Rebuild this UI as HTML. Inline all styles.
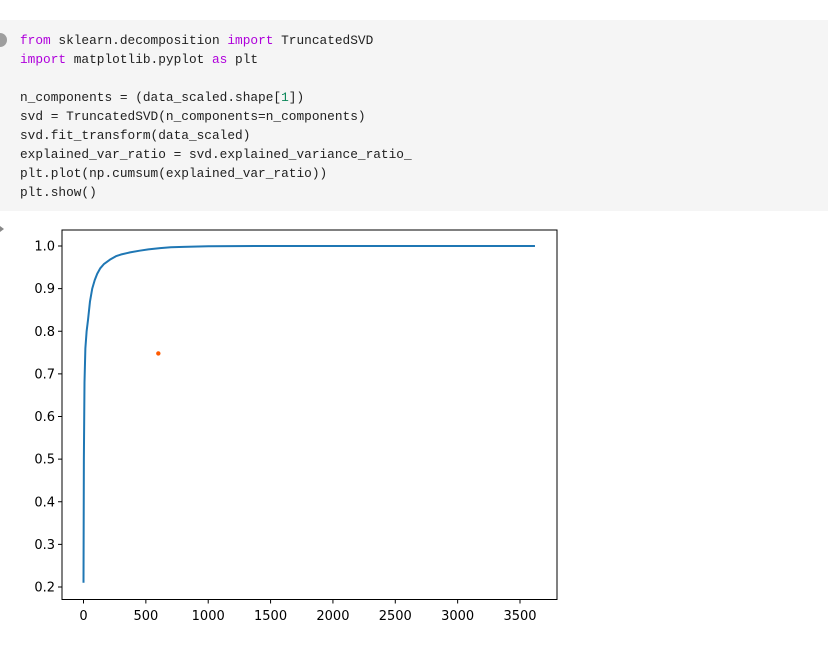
<!DOCTYPE html>
<html><head><meta charset="utf-8"><style>
body{margin:0;width:828px;height:647px;background:#fff;overflow:hidden;position:relative;font-family:"Liberation Sans","DejaVu Sans",sans-serif}
#code{position:absolute;left:0;top:20px;width:828px;height:191px;background:#f5f5f5}
#code pre{margin:0;position:absolute;left:20px;top:11px;font-family:"Liberation Mono","DejaVu Sans Mono",monospace;font-size:12.8px;line-height:19px;color:#212121}
.kw{color:#af00db}.num{color:#098658}
#run{position:absolute;left:0;top:13px;width:7px;height:14px;background:#9e9e9e;border-radius:0 7px 7px 0}
svg{position:absolute;left:0;top:0}
</style></head><body>
<div id="code">
<div id="run"></div>
<pre><span class="kw">from</span> sklearn.decomposition <span class="kw">import</span> TruncatedSVD
<span class="kw">import</span> matplotlib.pyplot <span class="kw">as</span> plt

n_components = (data_scaled.shape[<span class="num">1</span>])
svd = TruncatedSVD(n_components=n_components)
svd.fit_transform(data_scaled)
explained_var_ratio = svd.explained_variance_ratio_
plt.plot(np.cumsum(explained_var_ratio))
plt.show()</pre>
</div>
<svg id="chart" width="828" height="647"></svg>
<script>
const xVals=[0,3,8,15,25,36,52,70,90,110,135,165,212,260,300,373,450,520,614,700,800,1000,1500,2000,2500,3000,3620];
const yVals=[0.21,0.5,0.68,0.76,0.8,0.826,0.87,0.9,0.92,0.935,0.948,0.958,0.968,0.976,0.98,0.985,0.989,0.992,0.995,0.997,0.998,0.9995,1.0,1.0,1.0,1.0,1.0];
const xTicks=[0,500,1000,1500,2000,2500,3000,3500];
const yTicks=[0.2,0.3,0.4,0.5,0.6,0.7,0.8,0.9,1.0];
const marker=[600,0.748];
const L=62,T=230,R=557,B=599.5;
const sx=v=>83.5+v*(520-83.5)/3500;
const sy=v=>587-(v-0.2)*(587-246)/0.8;
const svg=document.getElementById('chart');
const NS='http://www.w3.org/2000/svg';
function mk(t,a){const e=document.createElementNS(NS,t);for(const k in a)e.setAttribute(k,a[k]);svg.appendChild(e);return e;}
const frame=mk('rect',{x:L,y:T,width:R-L,height:B-T,fill:'none',stroke:'#000','stroke-width':1});


xTicks.forEach(v=>{const x=sx(v);
 const t=mk('line',{x1:x,x2:x,y1:B,y2:B+4,stroke:'#000'});
 
 
 const l=mk('text',{x:x,y:620,'text-anchor':'middle','font-size':13,fill:'#000','font-family':'DejaVu Sans, sans-serif'});l.textContent=v;
 
 });
yTicks.forEach(v=>{const y=sy(v);
 const t=mk('line',{x1:L-4,x2:L,y1:y,y2:y,stroke:'#000'});
 
 
 const l=mk('text',{x:L-7,y:y+4.5,'text-anchor':'end','font-size':13,fill:'#000','font-family':'DejaVu Sans, sans-serif'});l.textContent=v.toFixed(1);
 
 });
let d='';xVals.forEach((v,i)=>{d+=(i?'L':'M')+sx(v).toFixed(2)+','+sy(yVals[i]).toFixed(2);});
const p=mk('path',{d:d,fill:'none',stroke:'#1f77b4','stroke-width':2,'stroke-linejoin':'round'});


const m=mk('circle',{cx:sx(marker[0]),cy:sy(marker[1]),r:2.2,fill:'#ff5a00'});


const a=mk('path',{d:'M0,226 L4,229 L0,232 Z',fill:'#888'});


</script>
</body></html>
